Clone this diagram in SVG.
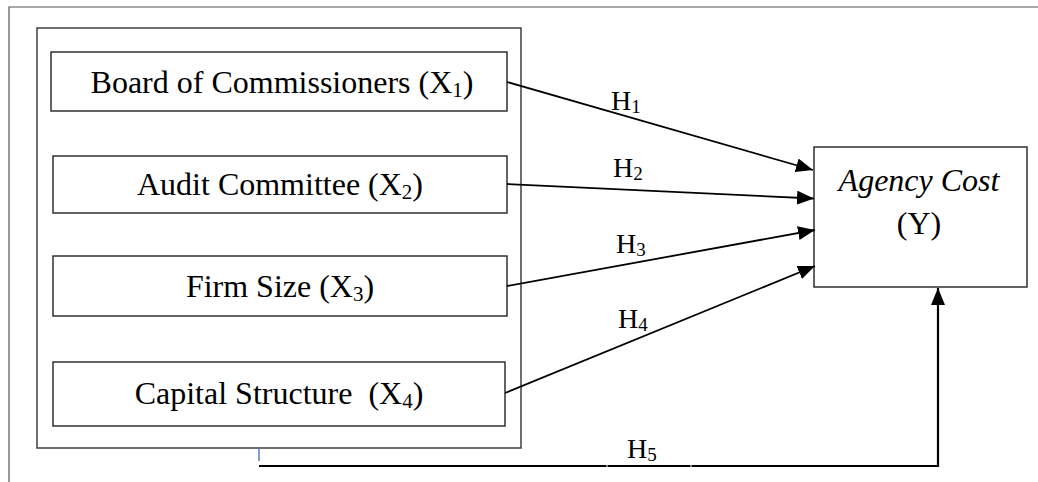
<svg xmlns="http://www.w3.org/2000/svg" width="1038" height="482" viewBox="0 0 1038 482">
<style>
.frame{fill:none;stroke:#555;stroke-width:1.2}
.box{fill:#fff;stroke:#222;stroke-width:1.4}
.t{font-family:"Liberation Serif","Times New Roman",serif;font-size:32px;fill:#000;text-anchor:middle;white-space:pre}
.h{font-family:"Liberation Serif","Times New Roman",serif;font-size:28px;fill:#000}
.c{fill:none;stroke:#000;stroke-width:1.8}
</style>
<defs>
<marker id="ah" markerUnits="userSpaceOnUse" markerWidth="18" markerHeight="14" refX="17" refY="7" orient="auto">
<path d="M0,0 L17,7 L0,14 z" fill="#000"/>
</marker>
</defs>
<path class="frame" d="M9,482 V7 H1038"/>
<rect class="frame" x="37" y="28" width="484" height="420" style="stroke:#333;stroke-width:1.4"/>
<line x1="259" y1="449" x2="259" y2="461" stroke="#4f81c7" stroke-width="1.5"/>
<g id="x1"><rect class="box" x="51" y="52" width="456" height="59"/><text class="t" x="282" y="93">Board of Commissioners (X<tspan font-size="21" dy="4">1</tspan><tspan dy="-4">)</tspan></text></g>
<g id="x2"><rect class="box" x="53" y="156" width="454" height="57"/><text class="t" x="280" y="195">Audit Committee (X<tspan font-size="21" dy="4">2</tspan><tspan dy="-4">)</tspan></text></g>
<g id="x3"><rect class="box" x="53" y="256" width="454" height="60"/><text class="t" x="280" y="297">Firm Size (X<tspan font-size="21" dy="4">3</tspan><tspan dy="-4">)</tspan></text></g>
<g id="x4"><rect class="box" x="53" y="362" width="452" height="64"/><text class="t" x="279" y="404">Capital Structure  (X<tspan font-size="21" dy="4">4</tspan><tspan dy="-4">)</tspan></text></g>
<g id="y"><rect class="box" x="814" y="147" width="213" height="140"/><text class="t" x="919" y="191" font-style="italic">Agency Cost</text><text class="t" x="919" y="234">(Y)</text></g>
<g id="connectors">
<line class="c" x1="507" y1="82" x2="813" y2="170" marker-end="url(#ah)"/>
<line class="c" x1="507" y1="184" x2="814" y2="198.5" marker-end="url(#ah)"/>
<line class="c" x1="507" y1="286" x2="815" y2="230" marker-end="url(#ah)"/>
<line class="c" x1="505" y1="393" x2="815" y2="266" marker-end="url(#ah)"/>
<path class="c" d="M259,466 H606.5 M607.5,466 H690.5 M691.5,466 H938 V288" style="stroke-width:2.2" marker-end="url(#ah)"/>
<text class="h" x="611" y="110">H<tspan font-size="19" dy="3">1</tspan></text>
<text class="h" x="613" y="177">H<tspan font-size="19" dy="3">2</tspan></text>
<text class="h" x="616" y="253">H<tspan font-size="19" dy="3">3</tspan></text>
<text class="h" x="618" y="328">H<tspan font-size="19" dy="3">4</tspan></text>
<text class="h" x="627" y="458">H<tspan font-size="19" dy="3">5</tspan></text>
</g>
</svg>
